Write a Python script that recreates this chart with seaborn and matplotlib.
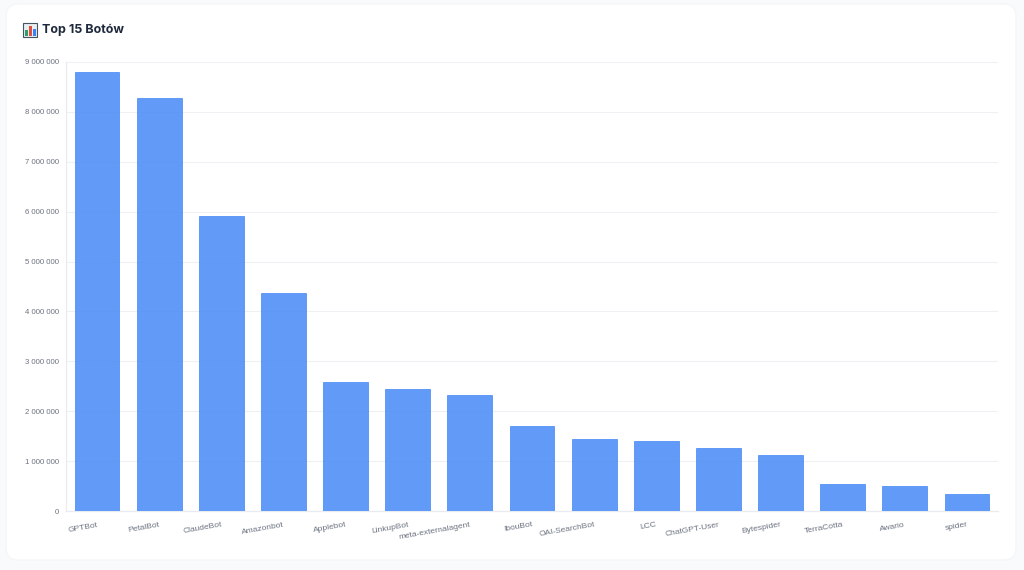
import matplotlib

matplotlib.use("Agg")
import matplotlib.pyplot as plt
import pandas as pd
import seaborn as sns
from matplotlib.patches import FancyBboxPatch, Rectangle
from matplotlib.ticker import FuncFormatter

# values
bots = [
    "GPTBot", "PetalBot", "ClaudeBot", "Amazonbot", "Applebot",
    "LinkupBot", "meta-externalagent", "IbouBot", "OAI-SearchBot", "LCC",
    "ChatGPT-User", "Bytespider", "TerraCotta", "Awario", "spider",
]
requests = [
    8800000, 8280000, 5920000, 4360000, 2590000,
    2450000, 2330000, 1710000, 1450000, 1400000,
    1260000, 1120000, 550000, 500000, 350000,
]
y_ticks = [0, 1000000, 2000000, 3000000, 4000000, 5000000, 6000000, 7000000, 8000000, 9000000]

W, H = 1024, 570
BLUE = "#3b82f6"

sns.set_theme(style="white")
plt.rcParams["font.family"] = ["Liberation Sans", "DejaVu Sans"]

fig = plt.figure(figsize=(W / 100, H / 100), dpi=100, facecolor="#f9fafb")

# white card behind the chart, with a faint edge
card = FancyBboxPatch(
    (6 / W, 1 - 560 / H), 1010 / W, 556 / H,
    boxstyle="round,pad=0,rounding_size=0.012",
    transform=fig.transFigure, mutation_aspect=W / H,
    facecolor="white", edgecolor="#f5f6f8", linewidth=1, zorder=0,
)
fig.add_artist(card)

# small bar chart icon in front of the title
fig.add_artist(Rectangle((23 / W, 1 - 37 / H), 14 / W, 14 / H, transform=fig.transFigure,
                         facecolor="#e8eef2", edgecolor="#46545c", linewidth=0.8))
for left, top, color in [(25, 30, "#2e9e6b"), (29, 26, "#e0503c"), (33, 29, "#3b82f6")]:
    fig.add_artist(Rectangle((left / W, 1 - 36 / H), 3 / W, (36 - top) / H,
                             transform=fig.transFigure, facecolor=color, edgecolor="none"))

fig.text(42 / W, 1 - 30 / H, "Top 15 Botów", fontsize=9, fontweight="bold",
         family="Inter", color="#1e293b", va="center", ha="left")

ax = fig.add_axes([66 / W, 1 - 511 / H, 932 / W, 449 / H])
ax.set_facecolor("none")

df = pd.DataFrame({"bot": bots, "requests": requests})
sns.barplot(
    data=df, x="bot", y="requests", ax=ax, width=0.72,
    color=BLUE, saturation=1, alpha=0.8, edgecolor=BLUE, linewidth=0.6, zorder=3,
)

ax.set_xlim(-0.5, len(bots) - 0.5)
ax.set_ylim(0, 9000000)
ax.set_yticks(y_ticks)
ax.yaxis.set_major_formatter(FuncFormatter(lambda v, _: f"{int(v):,}".replace(",", " ")))
ax.set_xlabel("")
ax.set_ylabel("")

ax.grid(axis="y", color="#eef0f4", linewidth=0.8, zorder=0)
ax.grid(axis="x", visible=False)
ax.set_axisbelow(True)

sns.despine(ax=ax, top=True, right=True)
for side in ["left", "bottom"]:
    ax.spines[side].set_color("#e8ebf0")
    ax.spines[side].set_linewidth(0.9)

ax.tick_params(axis="y", length=0, pad=5, labelsize=5.6, labelcolor="#6b7280")
ax.tick_params(axis="x", length=0, pad=7.5, labelsize=6.0, labelcolor="#6b7280")
plt.setp(ax.get_xticklabels(), rotation=10, ha="right", rotation_mode="anchor")

fig.savefig("out.png", dpi=100, facecolor=fig.get_facecolor())
